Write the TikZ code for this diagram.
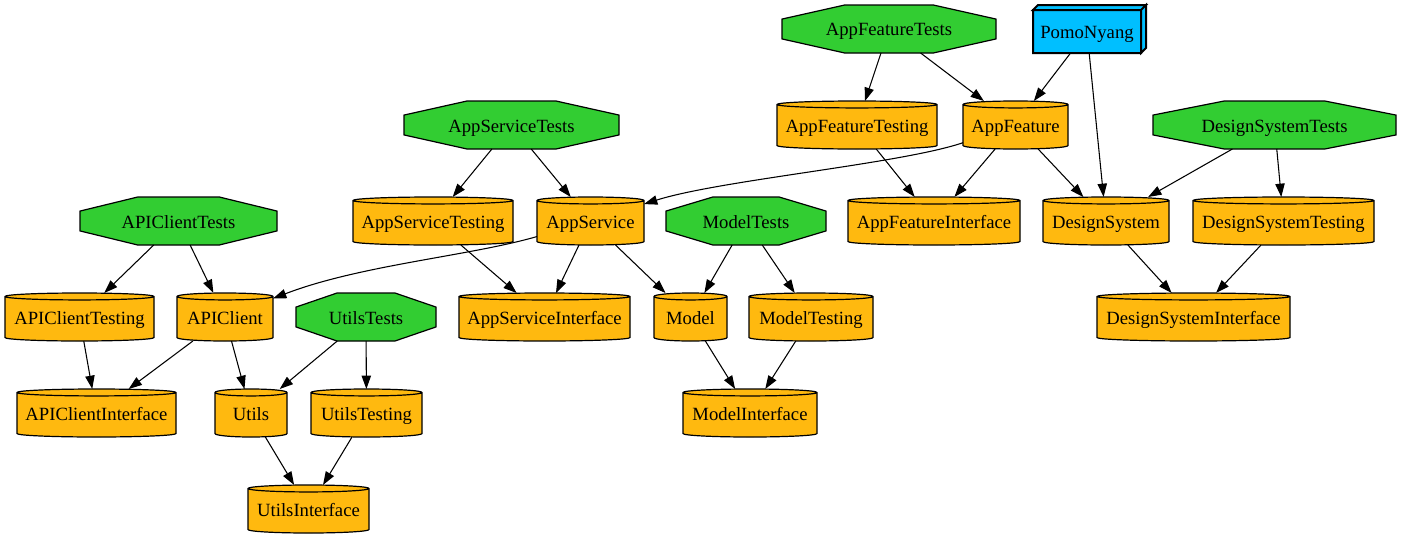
\documentclass[tikz,border=0pt]{standalone}
\usepackage{fontspec}
\setmainfont{Liberation Serif}
\usetikzlibrary{arrows.meta,calc,backgrounds}

\begin{document}
\begin{tikzpicture}[x=0.75pt,y=-0.75pt,
    modnode/.style={minimum width=#1, minimum height=36pt, inner sep=0pt, outer sep=0pt,
        text height=13pt, text depth=2.5pt, font=\fontsize{14pt}{16pt}\selectfont},
    deparrow/.style={-{Triangle[length=10pt,width=7pt]}, line width=0.8pt},
    cylfill/.style={fill=cylColour, draw=black, line width=0.9pt},
    octfill/.style={fill=testColour, draw=black, line width=0.9pt, line join=miter}]
    % Define colours
    \definecolor{cylColour}{HTML}{FFB90F}
    \definecolor{testColour}{HTML}{32CD32}
    \definecolor{appColour}{HTML}{00BFFF}

    % Define cylinder cap and box depth
    \def\capRadius{2.6pt}
    \def\boxDepth{5}

    \useasboundingbox (0,0) rectangle (1401,539);

    % Row 0
    \node[modnode=160.5pt] (AppFeatureTests) at (889,29) {AppFeatureTests};
    \node[modnode=81pt, minimum height=32.25pt] (PomoNyang) at (1087,31.5) {PomoNyang};

    % Row 1
    \node[modnode=161.25pt] (AppServiceTests) at (511.5,125) {AppServiceTests};
    \node[modnode=120pt] (AppFeatureTesting) at (857,125) {AppFeatureTesting};
    \node[modnode=78.75pt] (AppFeature) at (1015.5,125) {AppFeature};
    \node[modnode=182.25pt] (DesignSystemTests) at (1274.5,125) {DesignSystemTests};

    % Row 2
    \node[modnode=147.75pt] (APIClientTests) at (178.5,221) {APIClientTests};
    \node[modnode=120pt] (AppServiceTesting) at (433,221) {AppServiceTesting};
    \node[modnode=80.25pt] (AppService) at (590.5,221) {AppService};
    \node[modnode=120pt] (ModelTests) at (746,221) {ModelTests};
    \node[modnode=129pt] (AppFeatureInterface) at (934,221) {AppFeatureInterface};
    \node[modnode=94.5pt] (DesignSystem) at (1106,221) {DesignSystem};
    \node[modnode=135.75pt] (DesignSystemTesting) at (1283.5,221) {DesignSystemTesting};

    % Row 3
    \node[modnode=111.75pt] (APIClientTesting) at (79.5,317) {APIClientTesting};
    \node[modnode=72pt] (APIClient) at (225,317) {APIClient};
    \node[modnode=105pt] (UtilsTests) at (366,317) {UtilsTests};
    \node[modnode=128.25pt] (AppServiceInterface) at (544.5,317) {AppServiceInterface};
    \node[modnode=54.75pt] (Model) at (690.5,317) {Model};
    \node[modnode=93pt] (ModelTesting) at (811,317) {ModelTesting};
    \node[modnode=144.75pt] (DesignSystemInterface) at (1193.5,317) {DesignSystemInterface};

    % Row 4
    \node[modnode=119.25pt] (APIClientInterface) at (96.5,413) {APIClientInterface};
    \node[modnode=54pt] (Utils) at (251,413) {Utils};
    \node[modnode=83.25pt] (UtilsTesting) at (366.5,413) {UtilsTesting};
    \node[modnode=100.5pt] (ModelInterface) at (750,413) {ModelInterface};

    % Row 5
    \node[modnode=90.75pt] (UtilsInterface) at (308.5,509) {UtilsInterface};

    \begin{pgfonlayer}{background}
        % Test targets as octagons
        \foreach \nd in {AppFeatureTests,AppServiceTests,DesignSystemTests,APIClientTests,ModelTests,UtilsTests}
            \filldraw[octfill]
                ($(\nd.north west)!0.293!(\nd.north east)$) -- ($(\nd.north east)!0.293!(\nd.north west)$)
                -- ($(\nd.north east)!0.293!(\nd.south east)$) -- ($(\nd.south east)!0.293!(\nd.north east)$)
                -- ($(\nd.south east)!0.293!(\nd.south west)$) -- ($(\nd.south west)!0.293!(\nd.south east)$)
                -- ($(\nd.south west)!0.293!(\nd.north west)$) -- ($(\nd.north west)!0.293!(\nd.south west)$)
                -- cycle;

        % Modules as cylinders
        \foreach \nd in {AppFeatureTesting,AppFeature,AppServiceTesting,AppService,AppFeatureInterface,
                DesignSystem,DesignSystemTesting,APIClientTesting,APIClient,AppServiceInterface,Model,
                ModelTesting,DesignSystemInterface,APIClientInterface,Utils,UtilsTesting,ModelInterface,
                UtilsInterface}
            \filldraw[cylfill] let \p1=(\nd.north west), \p2=(\nd.south east) in
                (\x1,\y1-\capRadius) -- (\x1,\y2+\capRadius)
                arc[start angle=180, end angle=360, x radius={(\x2-\x1)/2}, y radius=\capRadius]
                -- (\x2,\y1-\capRadius)
                arc[start angle=0, end angle=180, x radius={(\x2-\x1)/2}, y radius=\capRadius]
                -- cycle
                (\x1,\y1-\capRadius)
                arc[start angle=180, end angle=360, x radius={(\x2-\x1)/2}, y radius=\capRadius];

        % App target as a 3d box
        \filldraw[fill=appColour, draw=black, line width=1.5pt, line join=miter]
            (PomoNyang.north west) rectangle (PomoNyang.south east)
            (PomoNyang.north west) -- ($(PomoNyang.north west)+(\boxDepth,-\boxDepth)$)
            -- ($(PomoNyang.north east)+(\boxDepth,-\boxDepth)$) -- (PomoNyang.north east) -- cycle
            (PomoNyang.north east) -- ($(PomoNyang.north east)+(\boxDepth,-\boxDepth)$)
            -- ($(PomoNyang.south east)+(\boxDepth,-\boxDepth)$) -- (PomoNyang.south east) -- cycle;
    \end{pgfonlayer}

    % Dependencies
    \draw[deparrow] (AppFeatureTests) -- (AppFeatureTesting);
    \draw[deparrow] (AppFeatureTests) -- (AppFeature);
    \draw[deparrow] (PomoNyang) -- (AppFeature);
    \draw[deparrow] (PomoNyang) -- (DesignSystem);
    \draw[deparrow] (AppServiceTests) -- (AppServiceTesting);
    \draw[deparrow] (AppServiceTests) -- (AppService);
    \draw[deparrow] (AppFeatureTesting) -- (AppFeatureInterface);
    \draw[deparrow] (AppFeature) .. controls (900,164) and (720,180) .. (AppService);
    \draw[deparrow] (AppFeature) -- (AppFeatureInterface);
    \draw[deparrow] (AppFeature) -- (DesignSystem);
    \draw[deparrow] (DesignSystemTests) -- (DesignSystem);
    \draw[deparrow] (DesignSystemTests) -- (DesignSystemTesting);
    \draw[deparrow] (APIClientTests) -- (APIClientTesting);
    \draw[deparrow] (APIClientTests) -- (APIClient);
    \draw[deparrow] (AppServiceTesting) -- (AppServiceInterface);
    \draw[deparrow] (AppService) .. controls (470,256) and (360,265) .. (APIClient);
    \draw[deparrow] (AppService) -- (AppServiceInterface);
    \draw[deparrow] (AppService) -- (Model);
    \draw[deparrow] (ModelTests) -- (Model);
    \draw[deparrow] (ModelTests) -- (ModelTesting);
    \draw[deparrow] (DesignSystem) -- (DesignSystemInterface);
    \draw[deparrow] (DesignSystemTesting) -- (DesignSystemInterface);
    \draw[deparrow] (APIClientTesting) -- (APIClientInterface);
    \draw[deparrow] (APIClient) -- (APIClientInterface);
    \draw[deparrow] (APIClient) -- (Utils);
    \draw[deparrow] (UtilsTests) -- (Utils);
    \draw[deparrow] (UtilsTests) -- (UtilsTesting);
    \draw[deparrow] (Model) -- (ModelInterface);
    \draw[deparrow] (ModelTesting) -- (ModelInterface);
    \draw[deparrow] (Utils) -- (UtilsInterface);
    \draw[deparrow] (UtilsTesting) -- (UtilsInterface);

\end{tikzpicture}
\end{document}
